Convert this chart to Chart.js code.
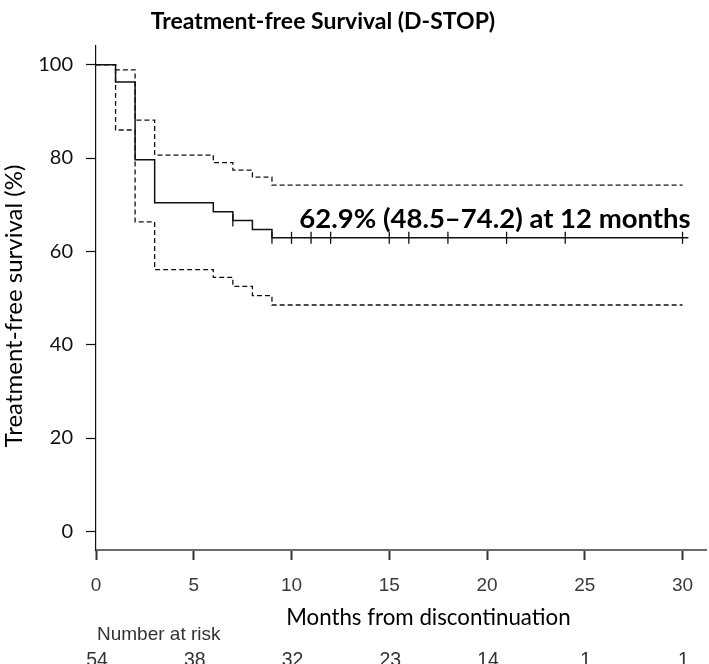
<!DOCTYPE html>
<html>
<head>
<meta charset="utf-8">
<script src="https://cdn.jsdelivr.net/npm/chart.js@4.4.1/dist/chart.umd.min.js"></script>
<style>
  html, body { margin: 0; padding: 0; background: #fff; }
  #wrap { width: 709px; height: 664px; }
</style>
</head>
<body>
<div id="wrap"><canvas id="km" width="709" height="664"></canvas></div>
<script>
// Kaplan-Meier steps (months, %)
const stepTimes = [0, 1, 2, 3, 6, 7, 8, 9, 30.3];
const survival = [100, 96.3, 79.6, 70.4, 68.5, 66.6, 64.7, 62.9, 62.9];
const ciTimes = [0, 1, 2, 3, 6, 7, 8, 9, 30];
const upperCI = [100, 98.9, 88.1, 80.6, 79.0, 77.4, 75.9, 74.2, 74.2];
const lowerCI = [100, 86.0, 66.3, 56.1, 54.4, 52.5, 50.5, 48.5, 48.5];
const censorTimes = [7, 9, 10, 11, 12, 15, 16, 18, 21, 24, 30];

const xTicks = [0, 5, 10, 15, 20, 25, 30];
const yTicks = [0, 20, 40, 60, 80, 100];
const riskCounts = [54, 38, 32, 23, 14, 1, 1];

const chartTitle = 'Treatment-free Survival (D-STOP)';
const yTitle = 'Treatment-free survival (%)';
const xTitle = 'Months from discontinuation';
const noteText = '62.9% (48.5\u201374.2) at 12 months';

// survival value at time t (step function, value after any drop at t)
function survAt(t) {
    let v = survival[0];
    stepTimes.forEach((s, i) => { if (s <= t) v = survival[i]; });
    return v;
}

const toPts = (xs, ys) => xs.map((x, i) => ({ x: x, y: ys[i] }));

const textPlugin = {
    id: 'kmText',
    afterDraw(chart) {
        const ctx = chart.ctx;
        const xs = chart.scales.x, ys = chart.scales.y;
        ctx.save();
        ctx.fillStyle = '#000';

        // title
        ctx.font = 'bold 23px Lato';
        ctx.textAlign = 'center';
        ctx.textBaseline = 'alphabetic';
        ctx.fillText(chartTitle, 323, 29);

        // annotation on the curve
        ctx.font = 'bold 27.5px Lato';
        ctx.textAlign = 'left';
        ctx.fillText(noteText, xs.getPixelForValue(10.4), ys.getPixelForValue(65));

        // y axis title
        ctx.save();
        ctx.translate(22, 306);
        ctx.rotate(-Math.PI / 2);
        ctx.font = '24px Lato';
        ctx.textAlign = 'center';
        ctx.fillText(yTitle, 0, 0);
        ctx.restore();

        // x axis title
        ctx.font = '22.3px Lato';
        ctx.textAlign = 'center';
        ctx.fillText(xTitle, xs.getPixelForValue(17), 625);

        // number at risk table
        ctx.fillStyle = '#333';
        ctx.font = '19px "Liberation Sans"';
        ctx.textAlign = 'left';
        ctx.fillText('Number at risk', 97, 640);
        ctx.textAlign = 'center';
        ctx.font = '19.5px "Liberation Sans"';
        riskCounts.forEach((n, i) => {
            ctx.fillText(String(n), xs.getPixelForValue(xTicks[i]) + 1, 666);
        });
        ctx.restore();
    }
};

new Chart(document.getElementById('km'), {
    type: 'line',
    data: {
        datasets: [
            {
                label: 'Survival',
                data: toPts(stepTimes, survival),
                stepped: true,
                borderColor: '#111',
                borderWidth: 1.5,
                pointRadius: 0
            },
            {
                label: 'Upper 95% CI',
                data: toPts(ciTimes, upperCI),
                stepped: true,
                borderColor: '#111',
                borderWidth: 1.3,
                borderDash: [5, 3],
                pointRadius: 0
            },
            {
                label: 'Lower 95% CI',
                data: toPts(ciTimes, lowerCI),
                stepped: true,
                borderColor: '#111',
                borderWidth: 1.3,
                borderDash: [5, 3],
                pointRadius: 0
            },
            {
                type: 'scatter',
                label: 'Censored',
                data: censorTimes.map(t => ({ x: t, y: survAt(t) })),
                pointStyle: 'line',
                rotation: 90,
                pointRadius: 6,
                borderColor: '#111',
                borderWidth: 1.3,
                showLine: false
            }
        ]
    },
    options: {
        responsive: false,
        devicePixelRatio: 1,
        animation: false,
        layout: { autoPadding: false, padding: { top: 46, right: 3, left: 0, bottom: 0 } },
        plugins: {
            legend: { display: false },
            tooltip: { enabled: false },
            title: { display: false }
        },
        scales: {
            x: {
                type: 'linear',
                min: 0,
                max: 31.2,
                afterBuildTicks: s => { s.ticks = xTicks.map(v => ({ value: v })); },
                afterFit: s => { s.height = 114; },
                grid: { display: true, drawOnChartArea: false, drawTicks: true, tickLength: 10, tickColor: '#333', tickWidth: 2 },
                border: { display: true, color: '#6b6b6b', width: 2 },
                // padding 0 keeps the right edge free; the tall line height pushes labels down
                ticks: { color: '#3a3a3a', font: { family: 'Liberation Sans', size: 19, lineHeight: '52px' }, padding: 0, maxRotation: 0, autoSkip: false }
            },
            y: {
                type: 'linear',
                min: -4,
                max: 104,
                afterBuildTicks: s => { s.ticks = yTicks.map(v => ({ value: v })); },
                afterFit: s => { s.width = 96; },
                grid: { display: true, drawOnChartArea: false, drawTicks: true, tickLength: 10, tickColor: '#111', tickWidth: 1.2 },
                border: { display: true, color: '#111', width: 1.2 },
                ticks: { color: '#111', font: { family: 'Lato', size: 20 }, padding: 13 }
            }
        }
    },
    plugins: [textPlugin]
});
</script>
</body>
</html>
